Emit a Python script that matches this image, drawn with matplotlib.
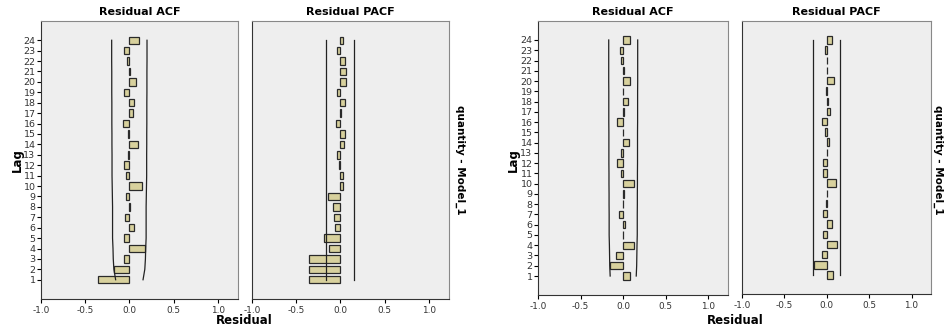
import numpy as np
import matplotlib.pyplot as plt

lags = list(range(1, 25))

# model 1 (left pair)
acf_1 = [-0.355, -0.17, -0.065, 0.18, -0.06, 0.05, -0.05, 0.005, -0.04, 0.14,
         -0.04, -0.065, -0.01, 0.10, -0.01, -0.075, 0.045, 0.055, -0.065, 0.07,
         0.005, -0.03, -0.06, 0.11]
acf_1_lim = [0.155, 0.175, 0.182, 0.185, 0.19, 0.19, 0.19, 0.19, 0.192, 0.194,
             0.196, 0.196, 0.196, 0.197, 0.197, 0.198, 0.198, 0.198, 0.199, 0.199,
             0.199, 0.2, 0.2, 0.2]
pacf_1 = [-0.36, -0.35, -0.36, -0.13, -0.18, -0.055, -0.075, -0.085, -0.14, 0.025,
          0.03, -0.02, -0.035, 0.04, 0.05, -0.045, 0.005, 0.05, -0.04, 0.065,
          0.06, 0.055, -0.04, 0.03]
pacf_1_lim = 0.157

# model 1 (right pair)
acf_2 = [0.075, -0.15, -0.08, 0.125, -0.005, 0.025, -0.045, -0.005, 0.005, 0.125,
         -0.03, -0.075, -0.025, 0.07, -0.005, -0.07, 0.005, 0.055, -0.005, 0.075,
         0.01, -0.03, -0.04, 0.08]
acf_2_lim = [0.153, 0.158, 0.16, 0.162, 0.165, 0.165, 0.165, 0.166, 0.166, 0.167,
             0.167, 0.168, 0.168, 0.168, 0.168, 0.169, 0.169, 0.169, 0.169, 0.17,
             0.17, 0.17, 0.17, 0.17]
pacf_2 = [0.075, -0.155, -0.06, 0.115, -0.045, 0.06, -0.045, -0.005, 0.005, 0.105,
          -0.04, -0.045, 0.005, 0.025, -0.025, -0.055, 0.04, 0.01, -0.005, 0.09,
          0.0, 0.0, -0.025, 0.06]
pacf_2_lim = 0.157

xticks = [-1.0, -0.5, 0.0, 0.5, 1.0]

BAR = '#d8d19d'
FACE = '#eeeeee'
W, H = 947, 328


def px_axes(fig, x0, x1, y0, y1):
    return fig.add_axes([x0 / W, (H - y1) / H, (x1 - x0) / W, (y1 - y0) / H])


def panel(ax, vals, lim, title, first):
    ax.set_facecolor(FACE)
    ax.barh(lags, vals, height=0.72, color=BAR, edgecolor='#2a2a2a', linewidth=0.9,
            zorder=2)
    lim = np.broadcast_to(lim, (len(lags),))
    ax.plot(lim, lags, color='#222222', lw=0.9, zorder=3)
    ax.plot(-lim, lags, color='#222222', lw=0.9, zorder=3)
    ax.set_xlim(-1.0, 1.23)
    ax.set_ylim(-0.85, 25.85)
    ax.set_xticks(xticks)
    ax.set_xticklabels([f'{t:.1f}' for t in xticks], fontsize=6.4, color='#333333')
    ax.tick_params(axis='x', length=3, width=0.8, direction='out', pad=2)
    if first:
        ax.set_yticks(lags)
        ax.set_yticklabels([str(l) for l in lags], fontsize=6.8, color='#333333')
        ax.tick_params(axis='y', length=3, width=0.8, direction='out', pad=1)
    else:
        ax.set_yticks([])
    for s in ax.spines.values():
        s.set_color('#888888')
        s.set_linewidth(0.8)
    ax.spines['left'].set_color('#333333')
    ax.spines['bottom'].set_color('#333333')
    ax.set_title(title, fontsize=8, fontweight='bold', pad=4)


fig = plt.figure(figsize=(W / 100, H / 100), dpi=100)

ax1 = px_axes(fig, 41, 238, 21, 299)
ax2 = px_axes(fig, 252, 449, 21, 299)
ax3 = px_axes(fig, 538, 728, 21, 295)
ax4 = px_axes(fig, 742, 931, 21, 294)

panel(ax1, acf_1, acf_1_lim, 'Residual ACF', True)
panel(ax2, pacf_1, pacf_1_lim, 'Residual PACF', False)
panel(ax3, acf_2, acf_2_lim, 'Residual ACF', True)
panel(ax4, pacf_2, pacf_2_lim, 'Residual PACF', False)

for x, y in [(17, 160), (513, 160)]:
    fig.text(x / W, 1 - y / H, 'Lag', rotation=90, ha='center', va='center',
             fontsize=8.5, fontweight='bold')
for x, y in [(460, 160), (938, 160)]:
    fig.text(x / W, 1 - y / H, 'quantity - Model_1', rotation=-90, ha='center',
             va='center', fontsize=7.5, fontweight='bold')
for x, y in [(244, 321), (735, 320)]:
    fig.text(x / W, 1 - y / H, 'Residual', ha='center', va='center',
             fontsize=8.5, fontweight='bold')

fig.savefig('out.png', dpi=100, facecolor='white')
